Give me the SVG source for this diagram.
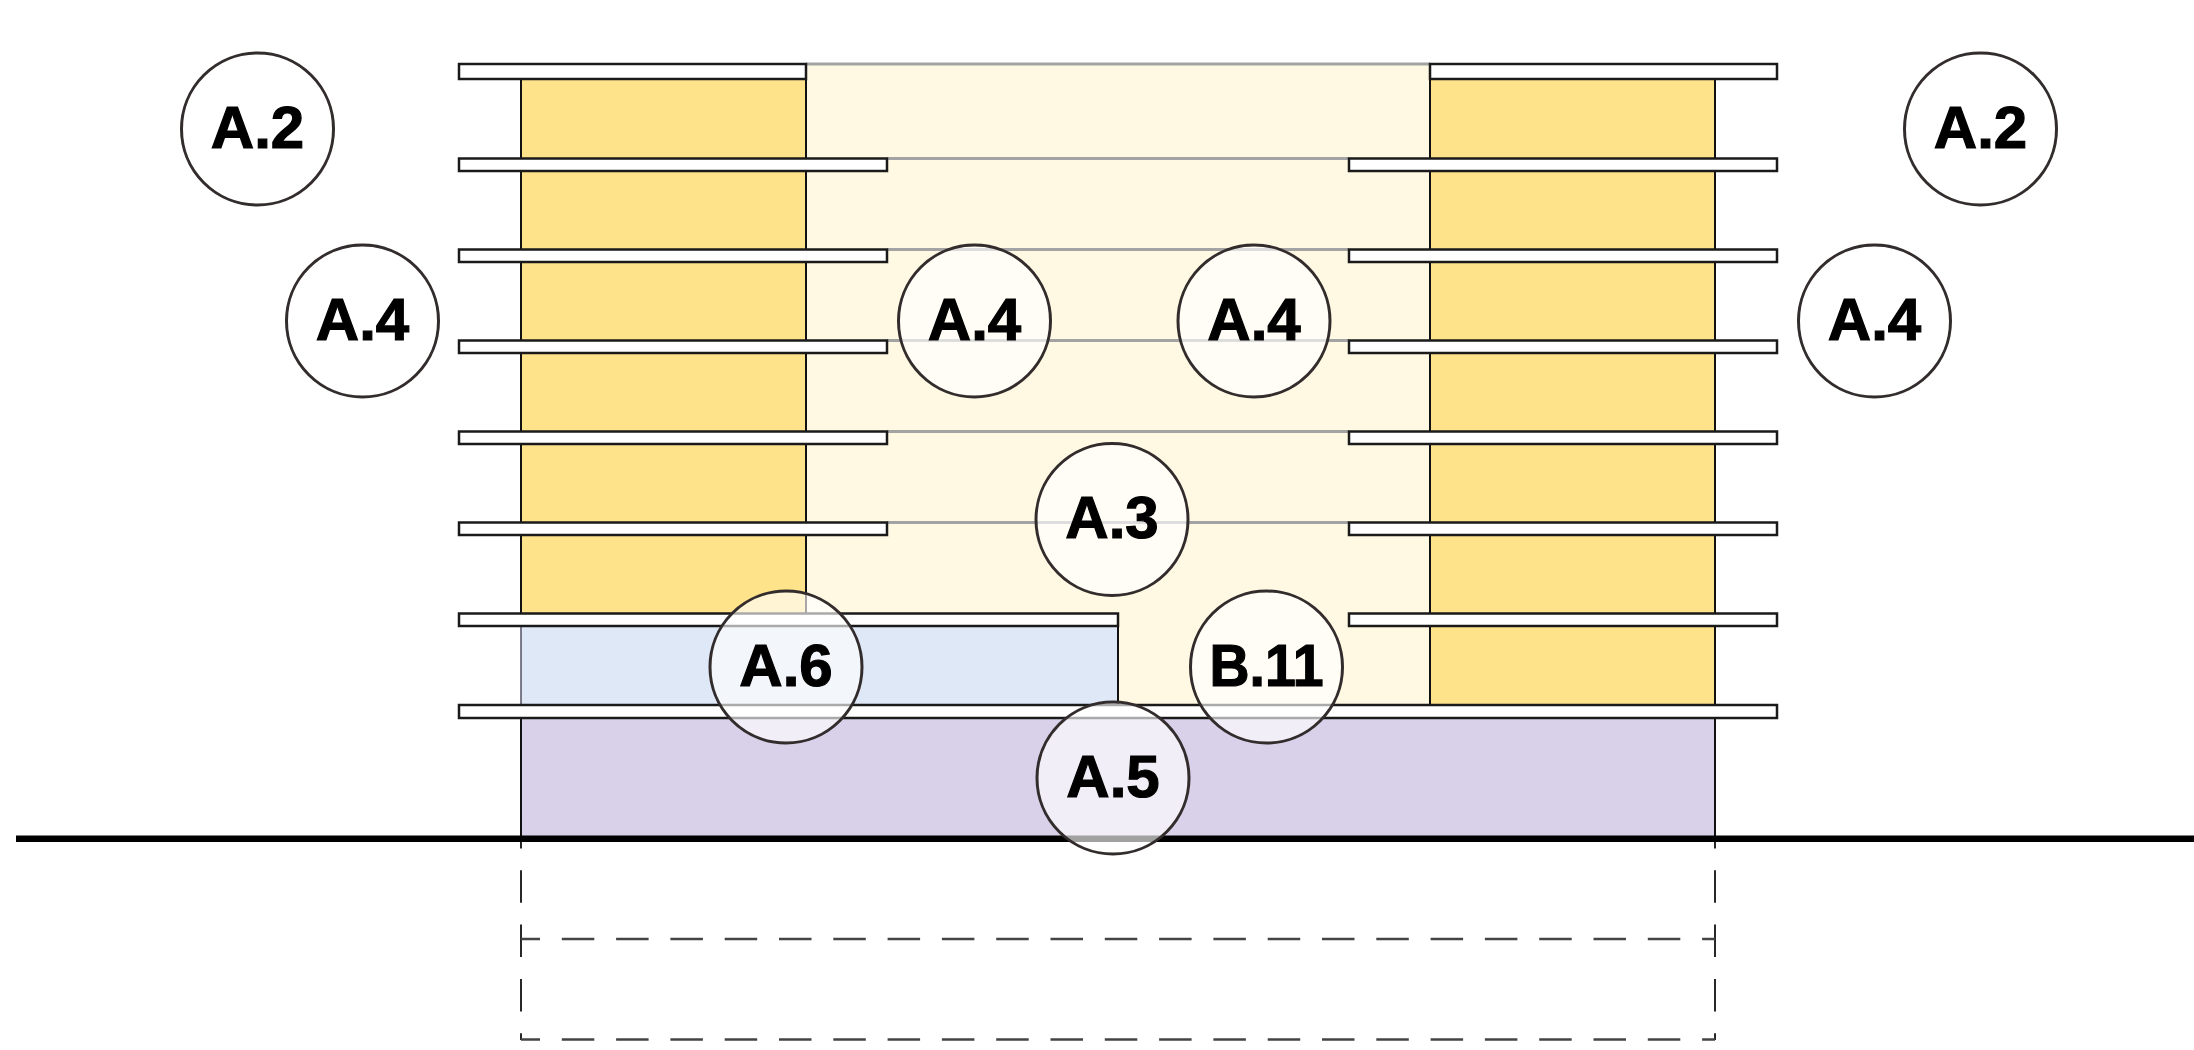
<svg xmlns="http://www.w3.org/2000/svg" width="2194" height="1050" viewBox="0 0 2194 1050">
<style>
.edge{stroke:#111;stroke-width:2;fill:none}
.rail{fill:#fff;stroke:#1a1a1a;stroke-width:2.5}
.floor{stroke:#a3a3a3;stroke-width:3;fill:none}
.dashv{stroke:#111;stroke-width:1.8;fill:none;stroke-dasharray:32.5 21.8}
.dashh{stroke:#444;stroke-width:2.4;fill:none;stroke-dasharray:32.5 21.8}
.tag circle{fill:#fff;fill-opacity:.63;stroke:#332c2c;stroke-width:3}
.tag text{font-family:"Liberation Sans",Arial,sans-serif;font-weight:700;font-size:60px;fill:#000;stroke:#000;stroke-width:1.2;text-anchor:middle}
</style>
<rect width="2194" height="1050" fill="#fff"/>
<g id="volumes">
<rect x="806" y="64" width="624" height="641" fill="#fff8e3"/>
<rect x="521" y="79" width="285" height="535" fill="#fee38b"/>
<rect x="1430" y="79" width="285" height="626" fill="#fee38b"/>
<rect x="521" y="626" width="597" height="79" fill="#dfe8f7"/>
<rect x="521" y="718" width="1194" height="118" fill="#d9d1e9"/>
</g>
<g id="floors">
<path class="floor" d="M806 64H1430M887 158.500H1349M887 249.500H1349M887 340.500H1349M887 431.500H1349M887 522.500H1349"/>
</g>
<g id="walls">
<path class="edge" d="M521 79V614M521 718V836M806 79V614M1430 64V705M1715 79V836M1118 614V705"/>
<path d="M521 626V705" stroke="#556" stroke-width="1.500" fill="none"/>
</g>
<g id="balconies">
<rect class="rail" x="459" y="64" width="347" height="15"/>
<rect class="rail" x="1430" y="64" width="347" height="15"/>
<rect class="rail" x="459" y="158.500" width="428" height="12.500"/>
<rect class="rail" x="1349" y="158.500" width="428" height="12.500"/>
<rect class="rail" x="459" y="249.500" width="428" height="12.500"/>
<rect class="rail" x="1349" y="249.500" width="428" height="12.500"/>
<rect class="rail" x="459" y="340.500" width="428" height="12.500"/>
<rect class="rail" x="1349" y="340.500" width="428" height="12.500"/>
<rect class="rail" x="459" y="431.500" width="428" height="12.500"/>
<rect class="rail" x="1349" y="431.500" width="428" height="12.500"/>
<rect class="rail" x="459" y="522.500" width="428" height="12.500"/>
<rect class="rail" x="1349" y="522.500" width="428" height="12.500"/>
<rect class="rail" x="459" y="613.500" width="659" height="12.500"/>
<rect class="rail" x="1349" y="613.500" width="428" height="12.500"/>
<rect class="rail" x="459" y="705" width="1318" height="13"/>
</g>
<g id="basement">
<path class="dashv" d="M521 816V1040"/>
<path class="dashv" d="M1715 816V1040"/>
<path class="dashh" d="M521 939H1715" stroke-dashoffset="13.500"/>
<path class="dashh" d="M521 1039.500H1715" stroke-dashoffset="13.500"/>
</g>
<g id="ground">
<rect x="16" y="835.500" width="2178" height="6.500" fill="#000"/>
</g>
<g id="tag-a2-left" class="tag"><circle cx="257.500" cy="129" r="76"/><text x="257.500" y="147.500">A.2</text></g>
<g id="tag-a2-right" class="tag"><circle cx="1980.500" cy="129" r="76"/><text x="1980.500" y="147.500">A.2</text></g>
<g id="tag-a4-left" class="tag"><circle cx="362.500" cy="321" r="76"/><text x="362.500" y="339.500">A.4</text></g>
<g id="tag-a4-mid-left" class="tag"><circle cx="974.500" cy="321" r="76"/><text x="974.500" y="339.500">A.4</text></g>
<g id="tag-a4-mid-right" class="tag"><circle cx="1254" cy="321" r="76"/><text x="1254" y="339.500">A.4</text></g>
<g id="tag-a4-right" class="tag"><circle cx="1874.500" cy="321" r="76"/><text x="1874.500" y="339.500">A.4</text></g>
<g id="tag-a3" class="tag"><circle cx="1112" cy="519.500" r="76"/><text x="1112" y="538">A.3</text></g>
<g id="tag-a6" class="tag"><circle cx="786" cy="667" r="76"/><text x="786" y="685.500">A.6</text></g>
<g id="tag-b11" class="tag"><circle cx="1266.500" cy="667" r="76"/><text x="1266.500" y="685.500" textLength="114" lengthAdjust="spacingAndGlyphs">B.11</text></g>
<g id="tag-a5" class="tag"><circle cx="1113" cy="778" r="76"/><text x="1113" y="796.500">A.5</text></g>
</svg>
